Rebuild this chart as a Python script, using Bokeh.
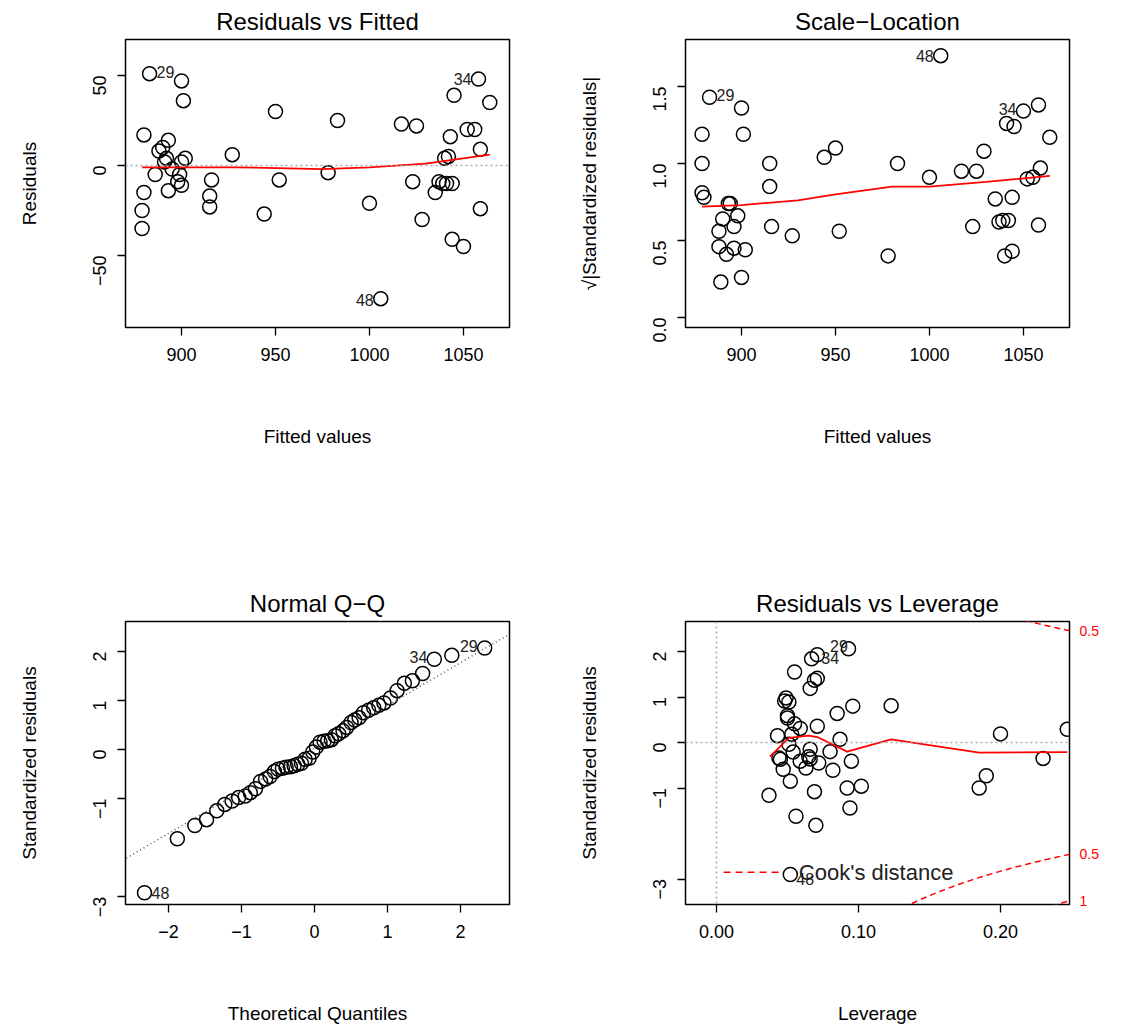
import math
import numpy as np
from bokeh.plotting import figure
from bokeh.layouts import gridplot
from bokeh.models import Range1d, FixedTicker, Slope, Span, Label, LinearAxis
from bokeh.embed import file_html
from bokeh.resources import INLINE

FONT = "Liberation Sans"

# Residuals vs Fitted
rf_fitted = [883,900,901,880,888,890,893,892,886,893,898,899,900,902,891,880,879,879,895,900,916,915,915,927,944,950,952,978,983,1000,1006,1017,1025,1023,1028,1035,1037,1039,1041,1040,1043,1044,1045,1042,1044,1050,1052,1056,1058,1059,1059,1064]
rf_resid = [51,47,36,17,8,10,14,4,-5,-14,-9,-5,2,4,2,-15,-25,-35,-2,-11,-8,-17,-23,6,-27,30,-8,-4,25,-21,-74,23,22,-9,-30,-15,-9,-10,-10,4,16,-10,39,5,-41,-45,20,20,48,9,-24,35]
rf_smooth_x = [879,900,930,975,1000,1030,1064]
rf_smooth_y = [-1,-1,-1,-2,-1,1,6]

# Scale-Location
sl_fitted = [879,879,879,880,883,888,888,890,889,892,893,894,896,896,898,900,901,900,902,915,915,916,927,944,950,952,978,983,1000,1006,1017,1023,1025,1029,1035,1037,1039,1040,1041,1042,1044,1044,1045,1050,1052,1055,1058,1058,1059,1064]
sl_sqrt = [1.19,1.0,0.81,0.78,1.43,0.46,0.56,0.64,0.23,0.41,0.74,0.74,0.59,0.45,0.66,1.36,1.19,0.26,0.44,1.0,0.85,0.59,0.53,1.04,1.1,0.56,0.4,1.0,0.91,1.7,0.95,0.59,0.95,1.08,0.77,0.62,0.63,0.4,1.26,0.63,0.78,0.43,1.24,1.34,0.9,0.91,1.38,0.6,0.97,1.17]
sl_smooth_x = [879,900,930,950,980,1000,1030,1064]
sl_smooth_y = [0.72,0.73,0.76,0.80,0.85,0.85,0.88,0.92]

# Normal Q-Q
qq_theor = [-2.33,-1.88,-1.64,-1.48,-1.34,-1.23,-1.13,-1.04,-0.95,-0.88,-0.81,-0.74,-0.67,-0.61,-0.55,-0.50,-0.44,-0.39,-0.33,-0.28,-0.23,-0.18,-0.13,-0.075,-0.025,
            0.025,0.075,0.13,0.18,0.23,0.28,0.33,0.39,0.44,0.50,0.55,0.61,0.67,0.74,0.81,0.88,0.95,1.04,1.13,1.23,1.34,1.48,1.64,1.88,2.33]
qq_sample = [-2.92,-1.82,-1.55,-1.43,-1.25,-1.12,-1.05,-0.98,-0.95,-0.88,-0.80,-0.65,-0.60,-0.55,-0.45,-0.40,-0.38,-0.36,-0.35,-0.33,-0.30,-0.28,-0.20,-0.18,-0.05,
             0.05,0.15,0.17,0.18,0.20,0.28,0.32,0.38,0.45,0.55,0.60,0.65,0.75,0.80,0.85,0.90,0.95,1.05,1.20,1.35,1.40,1.55,1.84,1.92,2.07]

# Residuals vs Leverage
lv_lev = [0.093,0.071,0.067,0.055,0.071,0.069,0.066,0.049,0.048,0.051,0.096,0.123,0.085,0.050,0.050,0.055,0.059,0.071,0.043,0.053,0.087,0.200,0.247,0.051,0.066,0.054,0.080,0.044,0.045,0.065,0.059,0.066,0.072,0.095,0.063,0.082,0.047,0.230,0.190,0.185,0.052,0.092,0.102,0.069,0.037,0.094,0.056,0.070,0.052]
lv_std = [2.06,1.93,1.84,1.55,1.41,1.37,1.19,0.98,0.91,0.89,0.80,0.81,0.64,0.59,0.54,0.41,0.31,0.36,0.15,0.18,0.07,0.19,0.29,-0.04,-0.15,-0.21,-0.20,-0.34,-0.37,-0.31,-0.41,-0.36,-0.45,-0.41,-0.56,-0.61,-0.59,-0.35,-0.73,-1.0,-0.85,-1.0,-0.96,-1.08,-1.16,-1.44,-1.62,-1.82,-2.90]
lv_smooth_x = [0.0376,0.051,0.065,0.071,0.092,0.123,0.185,0.247]
lv_smooth_y = [-0.31,0.10,0.15,0.12,-0.20,0.07,-0.22,-0.21]
n_params = 4
cook_levels = [0.5, 1.0]


def make(title, xlab, ylab, xr, yr, xt, yt, ylabels, lb, top, h):
    p = figure(width=557, height=509, x_range=Range1d(*xr), y_range=Range1d(*yr),
               output_backend="svg", toolbar_location=None,
               min_border_left=lb, min_border_right=557 - lb - 384,
               min_border_top=top, min_border_bottom=509 - top - h)
    p.frame_width = 384
    p.frame_height = h
    p.title.text = title
    p.title.align = "center"
    p.title.text_font = FONT
    p.title.text_font_size = "24px"
    p.title.text_font_style = "normal"
    p.title.text_color = "black"
    p.title.offset = 0
    p.grid.visible = False
    p.outline_line_color = "black"
    p.outline_line_width = 1.5
    for ax in (p.xaxis[0], p.yaxis[0]):
        ax.axis_line_color = None
        ax.minor_tick_line_color = None
        ax.major_tick_out = 8
        ax.major_tick_in = 0
        ax.major_tick_line_width = 1.3
        ax.major_label_text_font = FONT
        ax.major_label_text_font_size = "18px"
        ax.major_label_text_color = "black"
        ax.major_label_standoff = 12
        ax.axis_label_text_font = FONT
        ax.axis_label_text_font_size = "19px"
        ax.axis_label_text_font_style = "normal"
        ax.axis_label_text_color = "black"
    p.yaxis[0].major_label_standoff = 18
    p.xaxis[0].ticker = FixedTicker(ticks=xt)
    p.yaxis[0].ticker = FixedTicker(ticks=yt)
    p.yaxis[0].major_label_overrides = {t: l for t, l in zip(yt, ylabels)}
    p.yaxis[0].major_label_orientation = math.pi / 2
    p.xaxis[0].axis_label = xlab
    p.yaxis[0].axis_label = ylab
    p.xaxis[0].axis_label_standoff = 62
    p.yaxis[0].axis_label_standoff = 44
    return p


def lab(p, x, y, t, align="left", dx=0, dy=0, color="#222222", size="16px"):
    p.add_layout(Label(x=x, y=y, text=t, text_align=align, text_baseline="middle",
                       x_offset=dx, y_offset=dy, text_font=FONT,
                       text_font_size=size, text_color=color))


def pts(p, x, y):
    p.scatter(x, y, size=14, marker="circle", fill_color=None, line_color="black", line_width=1.5)


# Panel 1
p1 = make("Residuals vs Fitted", "Fitted values", "Residuals", (870.2, 1074.5), (-90, 70),
          [900, 950, 1000, 1050], [-50, 0, 50], ["\u221250", "0", "50"], 125, 37, 288)
p1.add_layout(Span(location=0, dimension="width", line_color="#aaaaaa", line_dash="2 3", line_width=1.5))
pts(p1, rf_fitted, rf_resid)
p1.line(rf_smooth_x, rf_smooth_y, line_color="red", line_width=1.8)
lab(p1, rf_fitted[0], rf_resid[0], "29", "left", 7, 2)
lab(p1, rf_fitted[48], rf_resid[48], "34", "right", -7, 0)
lab(p1, rf_fitted[30], rf_resid[30], "48", "right", -7, -1)

# Panel 2
p2 = make("Scale\u2212Location", "Fitted values", "\u221a|Standardized residuals|", (870.2, 1074.5), (-0.065, 1.805),
          [900, 950, 1000, 1050], [0.0, 0.5, 1.0, 1.5], ["0.0", "0.5", "1.0", "1.5"], 128, 37, 288)
pts(p2, sl_fitted, sl_sqrt)
p2.line(sl_smooth_x, sl_smooth_y, line_color="red", line_width=1.8)
lab(p2, sl_fitted[4], sl_sqrt[4], "29", "left", 7, 2)
lab(p2, sl_fitted[29], sl_sqrt[29], "48", "right", -7, 0)
lab(p2, sl_fitted[43], sl_sqrt[43], "34", "right", -7, 2)

# Panel 3
p3 = make("Normal Q\u2212Q", "Theoretical Quantiles", "Standardized residuals", (-2.59, 2.67), (-3.16, 2.61),
          [-2, -1, 0, 1, 2], [-3, -1, 0, 1, 2], ["\u22123", "\u22121", "0", "1", "2"], 125, 110, 283)
p3.add_layout(Slope(gradient=0.87, y_intercept=0.03, line_color="#555555", line_dash="1 3", line_width=1.5))
pts(p3, qq_theor, qq_sample)
lab(p3, qq_theor[0], qq_sample[0], "48", "left", 7, 0)
lab(p3, qq_theor[47], qq_sample[47], "34", "right", -7, 2)
lab(p3, qq_theor[49], qq_sample[49], "29", "right", -7, 2)

# Panel 4
p4 = make("Residuals vs Leverage", "Leverage", "Standardized residuals", (-0.0218, 0.2486), (-3.56, 2.66),
          [0.0, 0.1, 0.2], [-3, -1, 0, 1, 2], ["\u22123", "\u22121", "0", "1", "2"], 128, 110, 283)
p4.xaxis[0].major_label_overrides = {0.0: "0.00", 0.1: "0.10", 0.2: "0.20"}
p4.add_layout(Span(location=0, dimension="width", line_color="#aaaaaa", line_dash="2 3", line_width=1.5))
p4.add_layout(Span(location=0, dimension="height", line_color="#aaaaaa", line_dash="2 3", line_width=1.5))
hh = np.linspace(0.005, 0.2486, 200)
for c in cook_levels:
    yy = np.sqrt(c * n_params * (1 - hh) / hh)
    p4.line(hh, yy, line_color="red", line_dash="6 4", line_width=1.5)
    p4.line(hh, -yy, line_color="red", line_dash="6 4", line_width=1.5)
pts(p4, lv_lev, lv_std)
p4.line(lv_smooth_x, lv_smooth_y, line_color="red", line_width=1.8)
hr = 0.2486
rt = {}
for c, sgn in ((0.5, 1), (0.5, -1), (1.0, -1)):
    yv = sgn * math.sqrt(c * n_params * (1 - hr) / hr)
    rt[yv] = "0.5" if c == 0.5 else "1"
rax = LinearAxis(ticker=FixedTicker(ticks=list(rt.keys())), major_label_overrides=rt,
                 axis_line_color=None, major_tick_line_color=None, minor_tick_line_color=None,
                 major_label_text_color="red", major_label_text_font=FONT,
                 major_label_text_font_size="14px", major_label_standoff=4)
p4.add_layout(rax, "right")
lab(p4, 0.087, 2.12, "29", "left", -10, 0)
lab(p4, 0.071, 1.93, "34", "left", 4, -3)
lab(p4, lv_lev[48], lv_std[48], "48", "left", 6, -5)
p4.line([0.005, 0.047], [-2.85, -2.85], line_color="red", line_dash="7 5", line_width=1.5)
lab(p4, 0.058, -2.85, "Cook's distance", "left", 0, 0, "#222222", "22px")

g = gridplot([[p1, p2], [p3, p4]], toolbar_location=None)
open("out.html", "w").write(file_html(g, INLINE))
